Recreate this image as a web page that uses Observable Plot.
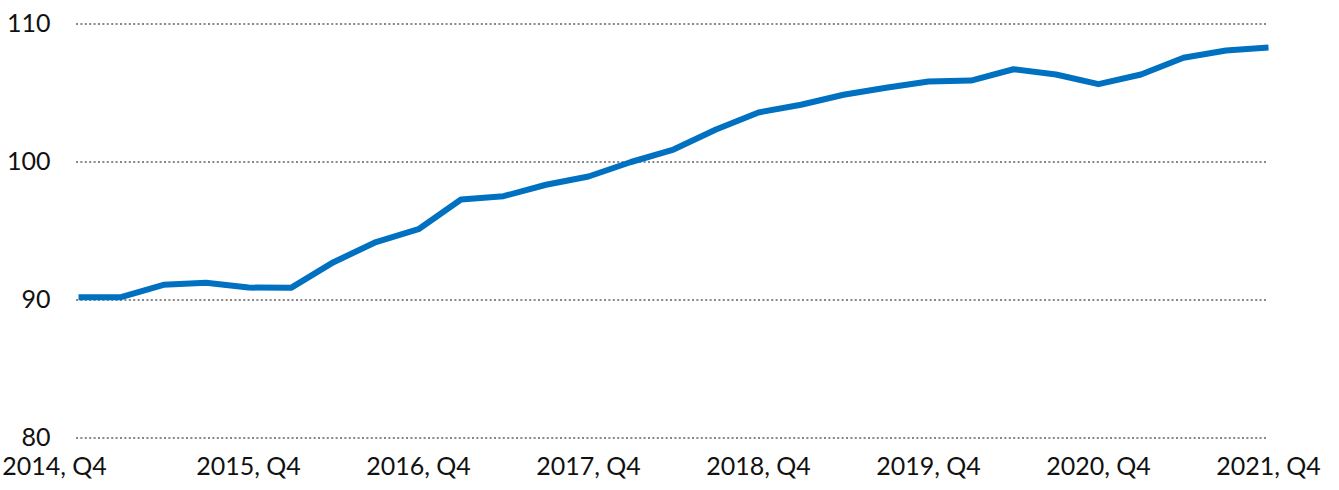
<!DOCTYPE html>
<html>
<head>
<meta charset="utf-8">
<script src="https://cdn.jsdelivr.net/npm/d3@7"></script>
<script src="https://cdn.jsdelivr.net/npm/@observablehq/plot@0.6"></script>
<style>
  html, body { margin: 0; padding: 0; background: #fff; }
  #chart svg { display: block; }
</style>
</head>
<body>
<div id="chart"></div>
<script>
const quarters = [
  "2014, Q4","2015, Q1","2015, Q2","2015, Q3","2015, Q4",
  "2016, Q1","2016, Q2","2016, Q3","2016, Q4",
  "2017, Q1","2017, Q2","2017, Q3","2017, Q4",
  "2018, Q1","2018, Q2","2018, Q3","2018, Q4",
  "2019, Q1","2019, Q2","2019, Q3","2019, Q4",
  "2020, Q1","2020, Q2","2020, Q3","2020, Q4",
  "2021, Q1","2021, Q2","2021, Q3","2021, Q4"
];
const values = [
  90.2, 90.2, 91.1, 91.25, 90.9,
  90.88, 92.74, 94.2, 95.13,
  97.28, 97.52, 98.35, 98.95,
  100.0, 100.9, 102.35, 103.59,
  104.15, 104.87, 105.38, 105.83,
  105.9, 106.72, 106.34, 105.64,
  106.34, 107.55, 108.08, 108.3
];
const yTicks = [80, 90, 100, 110];
const xTickLabels = ["2014, Q4","2015, Q4","2016, Q4","2017, Q4","2018, Q4","2019, Q4","2020, Q4","2021, Q4"];

const data = quarters.map((q, i) => ({i, q, v: values[i]}));
const tickIdx = xTickLabels.map(l => quarters.indexOf(l));

const chart = Plot.plot({
  width: 1339,
  height: 490,
  marginLeft: 78,
  marginRight: 71,
  marginTop: 23.5,
  marginBottom: 52.5,
  style: {fontFamily: "Lato, 'Open Sans', sans-serif", fontSize: "25px", color: "#111", background: "#fff"},
  x: {domain: [0, quarters.length - 1], axis: null, label: null},
  y: {domain: [80, 110], axis: null, label: null},
  marks: [
    Plot.ruleY(yTicks, {stroke: "#888", strokeWidth: 2, strokeDasharray: "2 2.4", insetLeft: -2}),
    Plot.axisY(yTicks, {tickSize: 0, tickPadding: 28, fontSize: 25, fill: "#111", label: null, tickFormat: d => String(d)}),
    Plot.axisX(tickIdx.slice(0, 1), {tickSize: 0, tickPadding: 19, dx: -24, fontSize: 25, fill: "#111", label: null, tickFormat: i => quarters[i]}),
    Plot.axisX(tickIdx.slice(1), {tickSize: 0, tickPadding: 19, fontSize: 25, fill: "#111", label: null, tickFormat: i => quarters[i]}),
    Plot.line(data, {x: "i", y: "v", stroke: "#0070C0", strokeWidth: 6, strokeLinejoin: "round", strokeLinecap: "butt"})
  ]
});
document.getElementById("chart").appendChild(chart);
</script>
</body>
</html>
